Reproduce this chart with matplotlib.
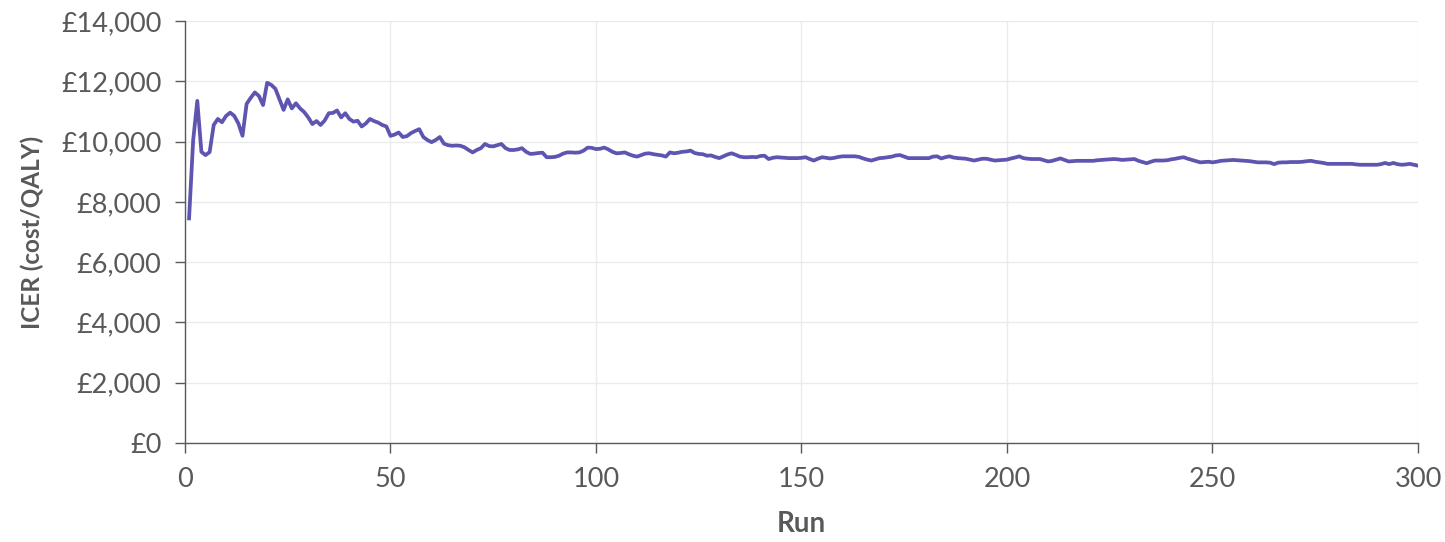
import numpy as np
import matplotlib.pyplot as plt
from matplotlib.ticker import FuncFormatter

# ICER per run
icer = [
    7450, 10050, 11350, 9660, 9550, 9650, 10550, 10750, 10640, 10850,
    10960, 10850, 10600, 10190, 11250, 11450, 11630, 11510, 11210, 11950,
    11880, 11750, 11400, 11050, 11400, 11100, 11270, 11100, 10980, 10800,
    10580, 10680, 10550, 10700, 10940, 10950, 11030, 10800, 10940, 10750,
    10660, 10690, 10500, 10600, 10750, 10680, 10630, 10550, 10500, 10190,
    10230, 10300, 10150, 10180, 10280, 10350, 10410, 10150, 10050, 9980,
    10050, 10150, 9930, 9880, 9860, 9870, 9860, 9810, 9720, 9640,
    9720, 9780, 9920, 9850, 9840, 9880, 9920, 9780, 9720, 9720,
    9740, 9780, 9660, 9590, 9600, 9620, 9630, 9480, 9480, 9490,
    9530, 9600, 9640, 9640, 9630, 9640, 9700, 9800, 9790, 9750,
    9760, 9800, 9740, 9660, 9610, 9620, 9640, 9580, 9530, 9500,
    9550, 9600, 9610, 9580, 9560, 9540, 9500, 9640, 9610, 9630,
    9660, 9670, 9700, 9620, 9590, 9580, 9530, 9540, 9490, 9450,
    9510, 9570, 9610, 9560, 9500, 9480, 9480, 9490, 9480, 9520,
    9530, 9420, 9460, 9480, 9470, 9460, 9450, 9450, 9450, 9460,
    9480, 9420, 9370, 9430, 9480, 9460, 9440, 9460, 9490, 9510,
    9510, 9510, 9510, 9490, 9440, 9400, 9370, 9410, 9450, 9460,
    9480, 9500, 9540, 9550, 9500, 9450, 9450, 9450, 9450, 9450,
    9450, 9500, 9510, 9440, 9480, 9510, 9470, 9450, 9440, 9430,
    9400, 9370, 9400, 9430, 9430, 9400, 9370, 9380, 9390, 9400,
    9440, 9470, 9510, 9450, 9430, 9420, 9420, 9420, 9380, 9340,
    9360, 9400, 9440, 9390, 9340, 9350, 9360, 9360, 9360, 9360,
    9360, 9380, 9390, 9400, 9410, 9420, 9410, 9390, 9400, 9410,
    9420, 9360, 9320, 9280, 9330, 9370, 9370, 9370, 9380, 9410,
    9430, 9460, 9480, 9430, 9390, 9350, 9310, 9320, 9330, 9310,
    9330, 9360, 9370, 9380, 9390, 9380, 9370, 9360, 9350, 9330,
    9310, 9310, 9310, 9300, 9250, 9300, 9310, 9310, 9320, 9320,
    9320, 9330, 9350, 9360, 9330, 9310, 9290, 9260, 9260, 9260,
    9260, 9260, 9260, 9260, 9240, 9230, 9230, 9230, 9230, 9230,
    9250, 9290, 9250, 9290, 9250, 9230, 9240, 9260, 9230, 9200,
]
runs = np.arange(1, len(icer) + 1)

x_ticks = [0, 50, 100, 150, 200, 250, 300]
y_ticks = [0, 2000, 4000, 6000, 8000, 10000, 12000, 14000]

text_col = '#595959'
plt.rcParams['font.family'] = ['Lato', 'DejaVu Sans']

fig = plt.figure(figsize=(14.45, 5.42), dpi=100)
ax = fig.add_axes([0.128, 0.1827, 0.8533, 0.7786])

ax.plot(runs, icer, color='#5e55b0', linewidth=2.7, solid_joinstyle='round')

ax.set_xlim(0, 300)
ax.set_ylim(0, 14000)
ax.set_xticks(x_ticks)
ax.set_yticks(y_ticks)
ax.yaxis.set_major_formatter(FuncFormatter(lambda v, p: '£{:,.0f}'.format(v)))

ax.grid(True, color='#ebebeb', linewidth=1.0)
ax.set_axisbelow(True)
for s in ['top', 'right']:
    ax.spines[s].set_visible(False)
for s in ['left', 'bottom']:
    ax.spines[s].set_color('#595959')
    ax.spines[s].set_linewidth(1.0)

ax.tick_params(axis='both', colors='#595959', labelcolor=text_col,
               labelsize=19.5, length=7, width=1.0)
ax.tick_params(axis='x', pad=10)
ax.tick_params(axis='y', pad=10)

ax.set_xlabel('Run', fontsize=20, fontweight='bold', color=text_col, labelpad=14)
ax.set_ylabel('ICER (cost/QALY)', fontsize=17.5, fontweight='bold', color=text_col, labelpad=12)

fig.savefig('out.png', dpi=100)
